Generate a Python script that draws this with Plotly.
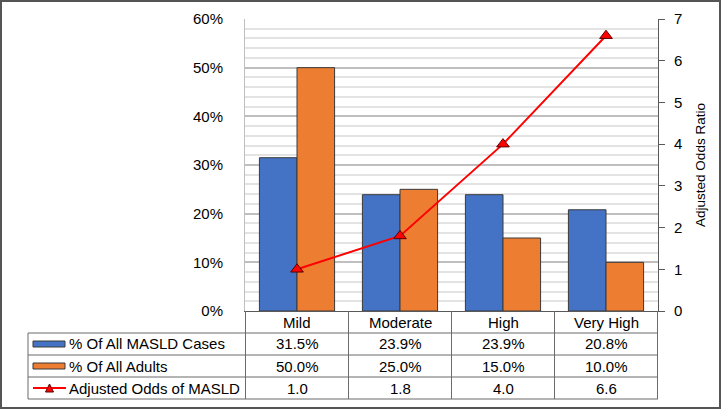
import plotly.graph_objects as go

# ---- data ----
categories = ["Mild", "Moderate", "High", "Very High"]
pct_masld_cases = [0.315, 0.239, 0.239, 0.208]
pct_all_adults = [0.500, 0.250, 0.150, 0.100]
adjusted_odds = [1.0, 1.8, 4.0, 6.6]
series_names = ["% Of All MASLD Cases", "% Of All Adults", "Adjusted Odds of MASLD"]

# ---- layout geometry (pixels) ----
W, H = 721, 409
L, R, T, B = 245, 63, 19, 98
PW, PH = W - L - R, H - T - B
FONT = "Liberation Sans, Arial, sans-serif"
FS = 15
BLUE, ORANGE, RED = "#4472C4", "#ED7D31", "#FF0000"
TABLE_LINE = "#6b6b6b"


def px(x):
    return (x - L) / PW


def py(y):
    return (H - B - y) / PH


fig = go.Figure()
fig.add_trace(go.Bar(x=categories, y=pct_masld_cases, name=series_names[0],
                     marker=dict(color=BLUE, line=dict(color="#3a3a3a", width=1))))
fig.add_trace(go.Bar(x=categories, y=pct_all_adults, name=series_names[1],
                     marker=dict(color=ORANGE, line=dict(color="#3a3a3a", width=1))))
fig.add_trace(go.Scatter(x=categories, y=adjusted_odds, name=series_names[2], yaxis="y2",
                         mode="lines+markers",
                         line=dict(color=RED, width=2),
                         marker=dict(symbol="triangle-up", size=11, color=RED,
                                     line=dict(color="#5a0000", width=1))))

shapes = []
annotations = []

# outer frame
shapes.append(dict(type="rect", xref="paper", yref="paper", x0=px(1), x1=px(720), y0=py(1), y1=py(408),
                   line=dict(color="#555555", width=2), layer="below"))

# table row boundaries (pixels)
row_tops = [333, 355, 377, 399]
header_top = 311
table_left = 28
table_right = L + PW

for yy in row_tops:
    shapes.append(dict(type="line", xref="paper", yref="paper", x0=px(table_left), x1=px(table_right),
                       y0=py(yy), y1=py(yy), line=dict(color=TABLE_LINE, width=1)))
shapes.append(dict(type="line", xref="paper", yref="paper", x0=px(table_left), x1=px(table_left),
                   y0=py(row_tops[0]), y1=py(row_tops[-1]), line=dict(color=TABLE_LINE, width=1)))
n = len(categories)
for i in range(n + 1):
    shapes.append(dict(type="line", xref="x", yref="paper", x0=i - 0.5, x1=i - 0.5,
                       y0=py(header_top), y1=py(row_tops[-1]), line=dict(color=TABLE_LINE, width=1)))

# header row: category labels
for c in categories:
    annotations.append(dict(x=c, y=py((header_top + row_tops[0]) / 2), xref="x", yref="paper",
                            text=c, showarrow=False, font=dict(size=FS, color="black", family=FONT),
                            xanchor="center", yanchor="middle"))

# table values
rows = [
    [f"{v * 100:.1f}%" for v in pct_masld_cases],
    [f"{v * 100:.1f}%" for v in pct_all_adults],
    [f"{v:.1f}" for v in adjusted_odds],
]
for r, vals in enumerate(rows):
    yc = py(row_tops[r] + 11)
    for c, t in zip(categories, vals):
        annotations.append(dict(x=c, y=yc, xref="x", yref="paper", text=t, showarrow=False,
                                font=dict(size=FS, color="black", family=FONT),
                                xanchor="center", yanchor="middle"))
    annotations.append(dict(x=px(67), y=yc, xref="paper", yref="paper", text=series_names[r],
                            showarrow=False, font=dict(size=FS, color="black", family=FONT),
                            xanchor="left", yanchor="middle"))

# legend keys in table
for r, col in enumerate([BLUE, ORANGE]):
    yc = row_tops[r] + 11
    shapes.append(dict(type="rect", xref="paper", yref="paper", x0=px(33), x1=px(65),
                       y0=py(yc - 3), y1=py(yc + 3), fillcolor=col,
                       line=dict(color="#3a3a3a", width=1)))
yc3 = row_tops[2] + 11
shapes.append(dict(type="line", xref="paper", yref="paper", x0=px(33), x1=px(66),
                   y0=py(yc3), y1=py(yc3), line=dict(color=RED, width=2)))
shapes.append(dict(type="path", xref="paper", yref="paper",
                   path=f"M {px(45.5)},{py(yc3 + 4)} L {px(53.5)},{py(yc3 + 4)} L {px(49.5)},{py(yc3 - 4)} Z",
                   fillcolor=RED, line=dict(color="#5a0000", width=1)))

fig.update_layout(
    width=W, height=H,
    margin=dict(l=L, r=R, t=T, b=B, autoexpand=False),
    paper_bgcolor="white", plot_bgcolor="white",
    showlegend=False,
    barmode="group", bargap=0.27, bargroupgap=0,
    font=dict(family=FONT, size=FS, color="black"),
    xaxis=dict(showticklabels=False, showgrid=False, showline=True, linecolor="#595959", linewidth=1,
               ticks="", zeroline=False),
    yaxis=dict(range=[0, 0.6], dtick=0.1, tickformat=".0%", showgrid=True, gridcolor="#bfbfbf",
               gridwidth=1.5, zeroline=False, showline=True, linecolor="#bfbfbf", linewidth=1,
               ticks="", ticklabelstandoff=18,
               tickfont=dict(size=FS, color="black", family=FONT),
               minor=dict(dtick=0.02, showgrid=True, gridcolor="#e3e3e3", gridwidth=1.5)),
    yaxis2=dict(range=[0, 7], dtick=1, overlaying="y", side="right", showgrid=False, zeroline=False,
                showline=True, linecolor="#595959", linewidth=1, ticks="outside", ticklen=6,
                tickcolor="#595959", ticklabelstandoff=6,
                tickfont=dict(size=FS, color="black", family=FONT),
                title=dict(text="Adjusted Odds Ratio", font=dict(size=13.5, color="black", family=FONT),
                           standoff=14)),
    shapes=shapes, annotations=annotations,
)

fig.write_html("out.html", config={"displayModeBar": False},
               post_script="document.body.style.margin='0';document.body.style.overflow='hidden';")
